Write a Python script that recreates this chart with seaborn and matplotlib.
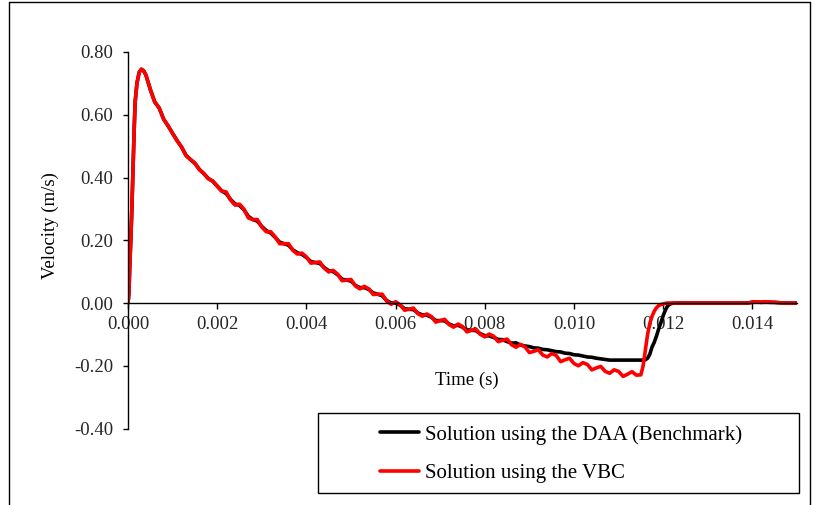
import matplotlib
matplotlib.use("Agg")
import matplotlib.pyplot as plt
from matplotlib.patches import Rectangle
from matplotlib.lines import Line2D
import seaborn as sns
import pandas as pd

# ---------------- data ----------------
time_s = [
    0.0, 0.00002, 0.00004, 0.00006, 0.00008, 0.0001, 0.00012, 0.00014, 0.00016,
    0.0002, 0.00025, 0.0003, 0.00035,
    0.0004, 0.0005, 0.0006, 0.0007, 0.0008, 0.0009, 0.0010, 0.0011, 0.0012,
    0.0013, 0.0014, 0.0015, 0.0016, 0.0017, 0.0018, 0.0019, 0.0020,
    0.0021, 0.0022, 0.0023, 0.0024, 0.0025, 0.0026, 0.0027, 0.0028, 0.0029, 0.0030,
    0.0031, 0.0032, 0.0033, 0.0034, 0.0035, 0.0036, 0.0037, 0.0038, 0.0039, 0.0040,
    0.0041, 0.0042, 0.0043, 0.0044, 0.0045, 0.0046, 0.0047, 0.0048, 0.0049, 0.0050,
    0.0051, 0.0052, 0.0053, 0.0054, 0.0055, 0.0056, 0.0057, 0.0058, 0.0059, 0.0060,
    0.0061, 0.0062, 0.0063, 0.0064, 0.0065, 0.0066, 0.0067, 0.0068, 0.0069, 0.0070,
    0.0071, 0.0072, 0.0073, 0.0074, 0.0075, 0.0076, 0.0077, 0.0078, 0.0079, 0.0080,
    0.0081, 0.0082, 0.0083, 0.0084, 0.0085, 0.0086, 0.0087, 0.0088, 0.0089, 0.0090,
    0.0091, 0.0092, 0.0093, 0.0094, 0.0095, 0.0096, 0.0097, 0.0098, 0.0099, 0.0100,
    0.0101, 0.0102, 0.0103, 0.0104, 0.0105, 0.0106, 0.0107, 0.0108, 0.0109, 0.0110,
    0.0111, 0.0112, 0.0113, 0.0114, 0.0115,
    0.01155, 0.0116, 0.01165, 0.0117, 0.01175, 0.0118, 0.01185, 0.0119, 0.01195,
    0.0120, 0.01205, 0.0121, 0.01215, 0.0122, 0.0123, 0.0125, 0.0130, 0.0135,
    0.0139, 0.0140, 0.0141, 0.0142, 0.0143, 0.0144, 0.0145, 0.0146, 0.0147,
    0.0148, 0.0150,
]

velocity_daa = [
    0.0, 0.03, 0.12, 0.19, 0.27, 0.37, 0.46, 0.56, 0.64,
    0.70, 0.735, 0.745, 0.740,
    0.727, 0.681, 0.641, 0.621, 0.586, 0.564, 0.541, 0.518, 0.497,
    0.471, 0.457, 0.445, 0.426, 0.412, 0.397, 0.388, 0.373,
    0.357, 0.349, 0.330, 0.316, 0.311, 0.297, 0.276, 0.266, 0.261, 0.244,
    0.231, 0.223, 0.209, 0.194, 0.189, 0.184, 0.169, 0.160, 0.155, 0.145,
    0.132, 0.129, 0.126, 0.113, 0.103, 0.100, 0.090, 0.076, 0.073, 0.070,
    0.056, 0.049, 0.049, 0.043, 0.032, 0.028, 0.023, 0.008, 0.000, 0.000,
    -0.007, -0.018, -0.020, -0.021, -0.032, -0.038, -0.039, -0.045, -0.056, -0.056,
    -0.057, -0.067, -0.073, -0.071, -0.077, -0.087, -0.087, -0.088, -0.098, -0.104,
    -0.105, -0.110, -0.116, -0.117, -0.123, -0.128, -0.127, -0.134, -0.137, -0.139,
    -0.143, -0.144, -0.148, -0.149, -0.152, -0.155, -0.156, -0.160, -0.161, -0.165,
    -0.166, -0.169, -0.172, -0.173, -0.176, -0.178, -0.180, -0.182, -0.182, -0.182,
    -0.182, -0.182, -0.182, -0.182, -0.182,
    -0.182, -0.181, -0.176, -0.163, -0.140, -0.125, -0.105, -0.082, -0.062,
    -0.040, -0.022, -0.009, -0.004, -0.001, 0.0, 0.0, 0.0, 0.0,
    0.0, 0.003, 0.003, 0.002, 0.003, 0.002, 0.002, 0.001, 0.0,
    0.0, 0.0,
]

velocity_vbc = [
    0.0, 0.03, 0.12, 0.19, 0.27, 0.37, 0.46, 0.56, 0.64,
    0.70, 0.735, 0.745, 0.740,
    0.728, 0.680, 0.640, 0.622, 0.585, 0.565, 0.540, 0.517, 0.498,
    0.470, 0.458, 0.446, 0.425, 0.413, 0.396, 0.389, 0.372,
    0.357, 0.354, 0.328, 0.312, 0.315, 0.299, 0.271, 0.266, 0.266, 0.242,
    0.227, 0.227, 0.211, 0.189, 0.189, 0.189, 0.167, 0.156, 0.159, 0.147,
    0.127, 0.129, 0.131, 0.111, 0.099, 0.104, 0.092, 0.071, 0.073, 0.075,
    0.054, 0.045, 0.053, 0.045, 0.027, 0.028, 0.028, 0.006, -0.004, 0.004,
    -0.005, -0.023, -0.020, -0.016, -0.034, -0.042, -0.035, -0.043, -0.061, -0.056,
    -0.052, -0.069, -0.077, -0.067, -0.075, -0.092, -0.087, -0.083, -0.100, -0.108,
    -0.099, -0.106, -0.123, -0.119, -0.115, -0.133, -0.141, -0.132, -0.140, -0.158,
    -0.154, -0.149, -0.166, -0.172, -0.161, -0.167, -0.187, -0.181, -0.176, -0.193,
    -0.200, -0.190, -0.196, -0.213, -0.207, -0.202, -0.218, -0.224, -0.213, -0.218,
    -0.234, -0.227, -0.219, -0.230, -0.229,
    -0.200, -0.150, -0.100, -0.065, -0.042, -0.026, -0.015, -0.008, -0.005,
    -0.003, -0.001, 0.0, 0.0, 0.0, 0.0, 0.0, 0.0, 0.0,
    0.0, 0.002, 0.004, 0.003, 0.004, 0.003, 0.002, 0.001, 0.0,
    0.0, 0.0,
]

series_names = ["Solution using the DAA (Benchmark)", "Solution using the VBC"]
series_colors = ["#000000", "#ff0000"]
y_ticks = [-0.40, -0.20, 0.00, 0.20, 0.40, 0.60, 0.80]
x_ticks = [0.000, 0.002, 0.004, 0.006, 0.008, 0.010, 0.012, 0.014]

df = pd.concat([
    pd.DataFrame({"Time": time_s, "Velocity": velocity_daa, "Series": series_names[0]}),
    pd.DataFrame({"Time": time_s, "Velocity": velocity_vbc, "Series": series_names[1]}),
], ignore_index=True)

# ---------------- plot ----------------
sns.set_theme(style="white")
plt.rcParams["font.family"] = ["Liberation Serif", "DejaVu Serif"]
plt.rcParams["text.color"] = "black"

W, H = 821, 505
fig = plt.figure(figsize=(W / 100, H / 100), dpi=100)
ax = fig.add_axes([128 / W, 1 - 428.5 / H, (797 - 128) / W, (428.5 - 52) / H])

sns.lineplot(data=df, x="Time", y="Velocity", hue="Series", palette=series_colors,
             hue_order=series_names, linewidth=2.6, ax=ax, legend=False,
             estimator=None, sort=False)

ax.set_xlim(0, 0.015)
ax.set_ylim(-0.4, 0.8)
ax.set_yticks(y_ticks)
ax.set_yticklabels([f"{v:.2f}" for v in y_ticks])
ax.set_xticks(x_ticks)
ax.set_xticklabels([f"{v:.3f}" for v in x_ticks])

for s in ["top", "right"]:
    ax.spines[s].set_visible(False)
ax.spines["bottom"].set_position(("data", 0))
for s in ["left", "bottom"]:
    ax.spines[s].set_color("black")
    ax.spines[s].set_linewidth(1.0)

ax.tick_params(axis="y", which="major", direction="out", length=3.5, width=1,
               color="black", labelsize=13.5, pad=7, left=True)
ax.tick_params(axis="x", which="major", direction="out", length=4, width=1,
               color="black", labelsize=13.5, pad=5.5, bottom=True)
ax.set_xlabel("")
ax.set_ylabel("")

fig.text(467 / W, 1 - 380 / H, "Time (s)", ha="center", va="center", fontsize=13.5)
fig.text(50 / W, 1 - 226 / H, "Velocity (m/s)", ha="center", va="center",
         rotation=90, fontsize=13.5)

# legend frame
fig.patches.append(Rectangle((318 / W, 1 - 492.5 / H), (799 - 318) / W, (492.5 - 412.5) / H,
                             transform=fig.transFigure, facecolor="white",
                             edgecolor="black", linewidth=1.0, zorder=5))
handles = [Line2D([0], [0], color=c, linewidth=2.6) for c in series_colors]
leg = fig.legend(handles, series_names, loc="upper left",
                 bbox_to_anchor=(380 / W, 1 - 425 / H), frameon=False,
                 fontsize=15, handlelength=1.85, handletextpad=0.33,
                 labelspacing=0.9, borderpad=0.0, borderaxespad=0.0)
leg.set_zorder(6)

# outer chart border
for (x0, y0, x1, y1) in [(8.5, 1.5, 809.5, 1.5), (8.5, 1.5, 8.5, 505), (809.5, 1.5, 809.5, 505)]:
    fig.add_artist(Line2D([x0 / W, x1 / W], [1 - y0 / H, 1 - y1 / H],
                          transform=fig.transFigure, color="black", linewidth=1.0))

fig.savefig("out.png", dpi=100)
